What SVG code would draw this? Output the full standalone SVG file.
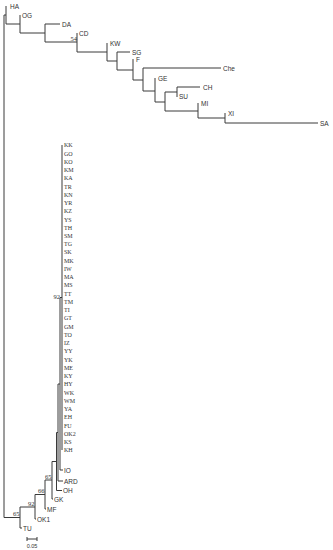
<svg xmlns="http://www.w3.org/2000/svg" width="333" height="550" viewBox="0 0 333 550">
<style>
.b{stroke:#3a3a3a;stroke-width:1;fill:none}
.s{font-family:"Liberation Sans",Arial,sans-serif;font-size:6.5px;fill:#333}
.t{font-family:"Liberation Serif","Times New Roman",serif;font-size:6px;fill:#333}
.n{font-family:"Liberation Serif","Times New Roman",serif;font-size:6.5px;fill:#333;text-anchor:end}
</style>
<rect width="333" height="550" fill="#fff"/>
<g id="connectors" class="b">
<path d="M4,15V517.5 M4,15H6 M6,6V24 M6,24H20 M20,15V33 M20,33H45 M45,24V42 M45,24H60 M45,42H77 M77,33V52 M77,52H107 M107,43V61 M107,61H117 M117,52V70 M117,52H130 M117,70H133 M133,59V80 M133,80H143 M143,68V91 M143,68H221 M143,91H155 M155,78V102 M155,102H165 M165,92V111 M165,92H177 M177,87V97 M177,87H200 M165,111H198 M198,103V118 M198,118H225 M225,113V123 M225,123H318"/>
<path d="M62,145V450 M60,297.5H62 M60,297.5V470 M60,470H63 M58,384H60 M58,384V481 M58,481H63 M56.5,432.5H58 M56.5,432.5V490.5 M56.5,490.5H62 M52,461.5H56.5 M52,461.5V499 M52,499H53 M45,480H52 M45,480V509 M45,509H46 M35,494.5H45 M35,494.5V519 M35,519H36 M20,507H35 M20,507V528 M20,528H22 M4,517.5H20"/>
<path d="M27,539H37 M27,537V541 M37,537V541"/>
</g>
<g id="HA"><text class="s" x="10" y="8.5">HA</text></g>
<g id="OG"><text class="s" x="22" y="17.5">OG</text></g>
<g id="DA"><text class="s" x="62" y="26.5">DA</text></g>
<g id="CD"><text class="s" x="79" y="35.5">CD</text><text class="n" x="77" y="40.5">54</text></g>
<g id="KW"><text class="s" x="110" y="45.5">KW</text></g>
<g id="SG"><text class="s" x="132" y="54.5">SG</text></g>
<g id="F"><text class="s" x="136" y="61.5">F</text></g>
<g id="Che"><text class="s" x="223" y="70.5">Che</text></g>
<g id="GE"><text class="s" x="158" y="80.5">GE</text></g>
<g id="CH"><text class="s" x="203" y="89.5">CH</text></g>
<g id="SU"><text class="s" x="179" y="98.5">SU</text></g>
<g id="MI"><text class="s" x="201" y="105.5">MI</text></g>
<g id="XI"><text class="s" x="228" y="115.5">XI</text></g>
<g id="SA"><text class="s" x="320" y="125.5">SA</text></g>
<g id="polytomy">
<text class="n" x="60" y="299">92</text>
<text class="t" x="64" y="147.3">KK</text>
<text class="t" x="64" y="155.5">GO</text>
<text class="t" x="64" y="163.8">KO</text>
<text class="t" x="64" y="172">KM</text>
<text class="t" x="64" y="180.3">KA</text>
<text class="t" x="64" y="188.5">TR</text>
<text class="t" x="64" y="196.7">KN</text>
<text class="t" x="64" y="205">YR</text>
<text class="t" x="64" y="213.2">KZ</text>
<text class="t" x="64" y="221.5">YS</text>
<text class="t" x="64" y="229.7">TH</text>
<text class="t" x="64" y="237.9">SM</text>
<text class="t" x="64" y="246.2">TG</text>
<text class="t" x="64" y="254.4">SK</text>
<text class="t" x="64" y="262.7">MK</text>
<text class="t" x="64" y="270.9">IW</text>
<text class="t" x="64" y="279.1">MA</text>
<text class="t" x="64" y="287.4">MS</text>
<text class="t" x="64" y="295.6">TT</text>
<text class="t" x="64" y="303.9">TM</text>
<text class="t" x="64" y="312.1">TI</text>
<text class="t" x="64" y="320.3">GT</text>
<text class="t" x="64" y="328.6">GM</text>
<text class="t" x="64" y="336.8">TO</text>
<text class="t" x="64" y="345.1">IZ</text>
<text class="t" x="64" y="353.3">YY</text>
<text class="t" x="64" y="361.5">YK</text>
<text class="t" x="64" y="369.8">ME</text>
<text class="t" x="64" y="378">KY</text>
<text class="t" x="64" y="386.3">HY</text>
<text class="t" x="64" y="394.5">WK</text>
<text class="t" x="64" y="402.7">WM</text>
<text class="t" x="64" y="411">YA</text>
<text class="t" x="64" y="419.2">EH</text>
<text class="t" x="64" y="427.5">FU</text>
<text class="t" x="64" y="435.7">OK2</text>
<text class="t" x="64" y="443.9">KS</text>
<text class="t" x="64" y="452.2">KH</text>
</g>
<g id="IO"><text class="s" x="64" y="472.5">IO</text></g>
<g id="ARD"><text class="s" x="64" y="483.5">ARD</text></g>
<g id="OH"><text class="s" x="63" y="493">OH</text></g>
<g id="GK"><text class="s" x="54" y="501.5">GK</text><text class="n" x="51.5" y="478.5">65</text></g>
<g id="MF"><text class="s" x="47" y="511.5">MF</text><text class="n" x="44.5" y="493">66</text></g>
<g id="OK1"><text class="s" x="37" y="521.5">OK1</text><text class="n" x="34.5" y="505.5">92</text></g>
<g id="TU"><text class="s" x="23" y="530.5">TU</text><text class="n" x="19.5" y="516">65</text></g>
<g id="scale"><text class="s" x="32" y="547.5" text-anchor="middle" style="font-size:5.5px">0.05</text></g>
</svg>
